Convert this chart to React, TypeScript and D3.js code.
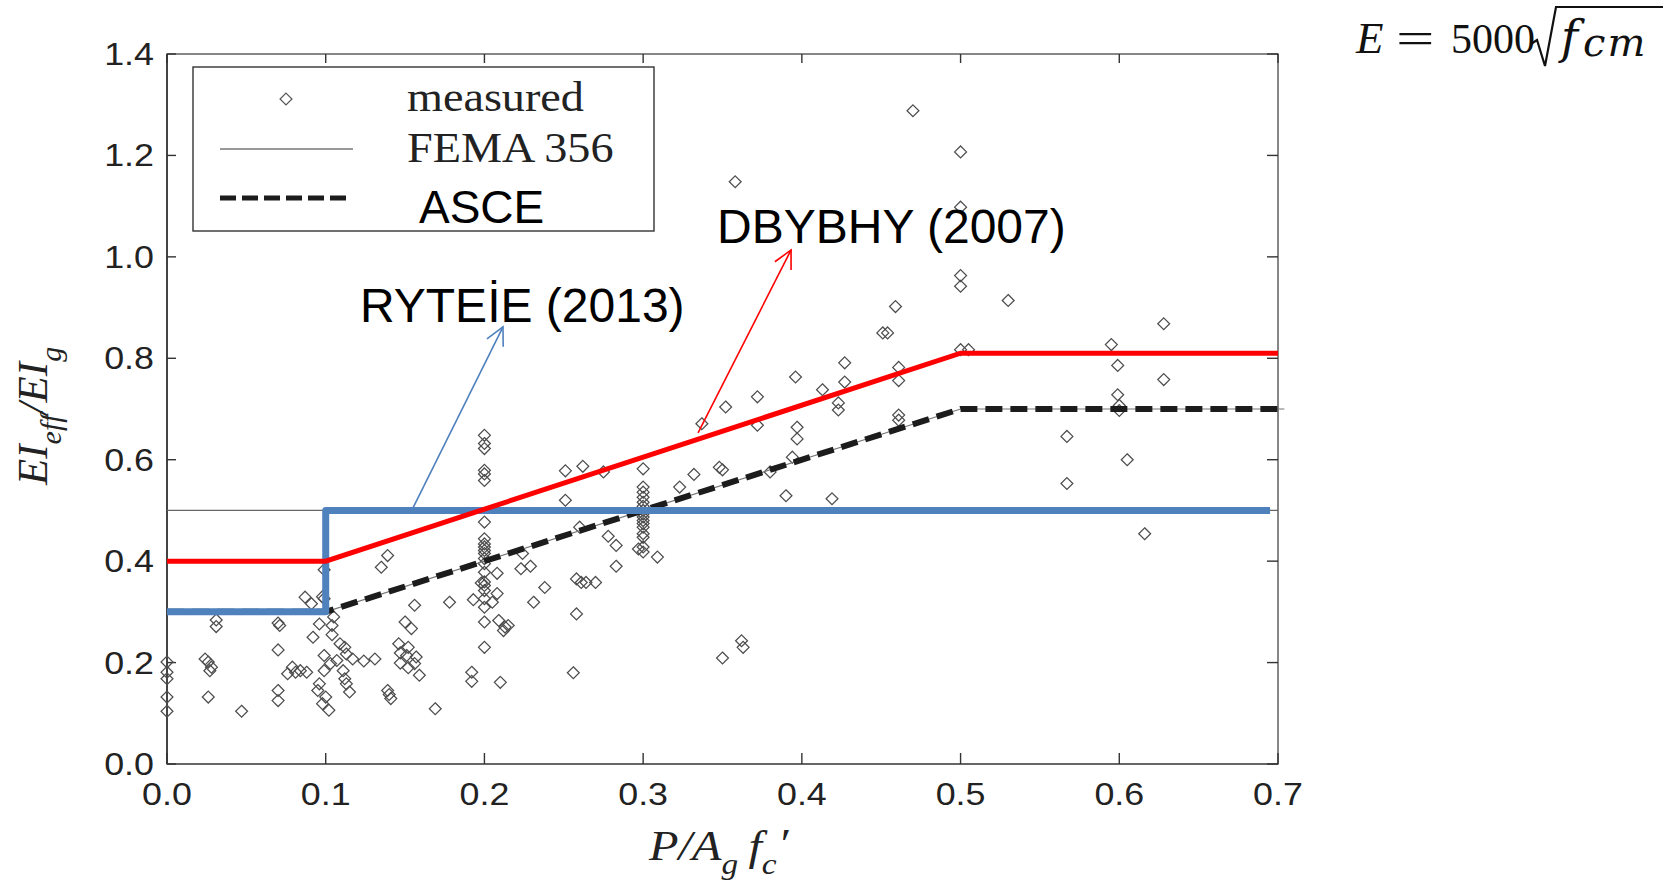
import React from "react";
import * as d3 from "d3";

// Axis ticks
const xTicks = [0, 0.1, 0.2, 0.3, 0.4, 0.5, 0.6, 0.7];
const yTicks = [0, 0.2, 0.4, 0.6, 0.8, 1.0, 1.2, 1.4];

// Code provisions (axial load ratio -> stiffness ratio)
const femaX = [0, 0.7];
const femaY = [0.5, 0.5];
const ryteieX = [0, 0.1, 0.1, 0.695];
const ryteieY = [0.3, 0.3, 0.5, 0.5];
const dbybhyX = [0, 0.1, 0.5, 0.7];
const dbybhyY = [0.4, 0.4, 0.81, 0.81];
const asceX = [0, 0.1, 0.5, 0.704];
const asceY = [0.3, 0.3, 0.7, 0.7];

// Test results: axial load ratio P/(Ag f'c)
const measuredP = [
  0, 0, 0, 0, 0, 0.024, 0.026, 0.028, 0.027, 0.026, 0.031, 0.031, 0.047,
  0.07, 0.071, 0.07, 0.07, 0.07, 0.076, 0.079, 0.081, 0.084, 0.088, 0.087,
  0.091, 0.092, 0.096, 0.098, 0.099, 0.099, 0.099, 0.099, 0.095, 0.096, 0.1,
  0.102, 0.098, 0.104, 0.104, 0.105, 0.109, 0.112, 0.113, 0.117, 0.124, 0.107,
  0.103, 0.111, 0.112, 0.113, 0.115, 0.131, 0.139, 0.135, 0.156, 0.178, 0.15,
  0.154, 0.146, 0.152, 0.147, 0.151, 0.157, 0.147, 0.156, 0.152, 0.159, 0.139,
  0.14, 0.141, 0.169, 0.192, 0.192,
  0.2, 0.2, 0.2, 0.2, 0.2, 0.2, 0.2, 0.2, 0.2, 0.2, 0.2, 0.2, 0.2, 0.2, 0.2,
  0.2, 0.2, 0.2, 0.2, 0.2, 0.2, 0.2,
  0.193, 0.198, 0.205, 0.208, 0.209, 0.213, 0.215, 0.212, 0.208, 0.224, 0.223,
  0.229, 0.238, 0.231, 0.251, 0.251, 0.21, 0.262, 0.275, 0.26, 0.278, 0.283,
  0.283, 0.258, 0.261, 0.264, 0.27, 0.258, 0.256, 0.297, 0.309, 0.323, 0.332,
  0.3, 0.3, 0.3, 0.3, 0.3, 0.3, 0.3, 0.3, 0.3, 0.3, 0.3, 0.3, 0.3, 0.3, 0.3, 0.3,
  0.348, 0.35, 0.39, 0.38, 0.352, 0.372, 0.372, 0.337, 0.397, 0.397, 0.362,
  0.363, 0.35, 0.358, 0.451, 0.454, 0.427, 0.396, 0.427, 0.413, 0.459, 0.461,
  0.461, 0.423, 0.423, 0.461, 0.461, 0.394, 0.419, 0.47, 0.5, 0.5, 0.5, 0.5,
  0.53, 0.5, 0.505, 0.595, 0.628, 0.599, 0.628, 0.599, 0.6, 0.6, 0.567, 0.605,
  0.567, 0.616,
];

// Test results: effective stiffness ratio EIeff/EIg
const measuredEI = [
  0.201, 0.181, 0.168, 0.132, 0.104, 0.207, 0.201, 0.191, 0.184, 0.132, 0.284,
  0.271, 0.104, 0.278, 0.273, 0.225, 0.145, 0.125, 0.178, 0.191, 0.181, 0.184,
  0.181, 0.329, 0.316, 0.25, 0.276, 0.33, 0.326, 0.383, 0.214, 0.184, 0.145,
  0.158, 0.132, 0.106, 0.119, 0.273, 0.255, 0.29, 0.237, 0.23, 0.217, 0.207,
  0.203, 0.204, 0.198, 0.184, 0.168, 0.158, 0.142, 0.207, 0.411, 0.388, 0.313,
  0.319, 0.28, 0.267, 0.237, 0.23, 0.219, 0.214, 0.211, 0.199, 0.198, 0.19,
  0.175, 0.145, 0.137, 0.129, 0.109, 0.181, 0.163,
  0.648, 0.632, 0.622, 0.579, 0.572, 0.559, 0.477, 0.444, 0.434, 0.428, 0.421,
  0.415, 0.405, 0.395, 0.378, 0.359, 0.352, 0.342, 0.326, 0.309, 0.28, 0.23,
  0.324, 0.357, 0.319, 0.336, 0.283, 0.27, 0.273, 0.263, 0.376, 0.415, 0.385,
  0.39, 0.348, 0.319, 0.578, 0.52, 0.161, 0.587, 0.576, 0.467, 0.449, 0.431,
  0.39, 0.365, 0.358, 0.358, 0.358, 0.296, 0.18, 0.424, 0.408, 0.546, 0.571,
  0.582, 0.546, 0.536, 0.526, 0.516, 0.508, 0.5, 0.493, 0.487, 0.48, 0.474,
  0.467, 0.454, 0.447, 0.428, 0.418,
  0.585, 0.58, 0.529, 0.576, 0.704, 0.724, 0.668, 0.671, 0.664, 0.641, 0.243,
  0.23, 0.209, 1.148, 0.85, 0.85, 0.791, 0.763, 0.753, 0.738, 0.902, 0.782,
  0.756, 0.712, 0.698, 0.688, 0.678, 0.605, 0.523, 1.288, 1.207, 1.098, 0.963,
  0.942, 0.914, 0.817, 0.817, 0.827, 0.868, 0.786, 0.758, 0.728, 0.707, 0.697,
  0.646, 0.6, 0.553, 0.454,
];

// Annotation arrows in data units: [x0, y0, x1, y1]
const dbybhyArrow = [0.3346, 0.653, 0.3932, 1.0136];
const ryteieArrow = [0.155, 0.505, 0.2117, 0.862];

const W = 1672;
const H = 881;

const x = d3.scaleLinear().domain([0, 0.7]).range([167, 1278]);
const y = d3.scaleLinear().domain([0, 1.4]).range([764, 54]);

const pathOf = (xs: number[], ys: number[]) =>
  d3
    .line<number>()
    .x((_, i) => x(xs[i]))
    .y((_, i) => y(ys[i]))(xs.map((_, i) => i)) as string;

const diamondType: any = (d3 as any).symbolDiamond2 || d3.symbolDiamond;
const diamond = d3.symbol().type(diamondType).size(90)() as string;

function Arrow({ a, color }: { a: number[]; color: string }) {
  const x0 = x(a[0]);
  const y0 = y(a[1]);
  const x1 = x(a[2]);
  const y1 = y(a[3]);
  const ang = Math.atan2(y1 - y0, x1 - x0);
  const L = 20;
  const spread = 0.47;
  const w1 = [x1 - L * Math.cos(ang - spread), y1 - L * Math.sin(ang - spread)];
  const w2 = [x1 - L * Math.cos(ang + spread), y1 - L * Math.sin(ang + spread)];
  return (
    <g stroke={color} strokeWidth={1.6} fill="none">
      <line x1={x0} y1={y0} x2={x1} y2={y1} />
      <path d={`M${w1[0]},${w1[1]}L${x1},${y1}L${w2[0]},${w2[1]}`} />
    </g>
  );
}

export default function App() {
  const serif = "'Liberation Serif', 'Times New Roman', serif";
  const mathSerif = "'DejaVu Serif', serif";
  const sans = "'Liberation Sans', Arial, sans-serif";
  const left = x(0);
  const right = x(0.7);
  const top = y(1.4);
  const bottom = y(0);

  return (
    <svg
      width={W}
      height={H}
      style={{ position: "absolute", left: 0, top: 0, background: "#fff" }}
    >
      <rect x={0} y={0} width={W} height={H} fill="#fff" />

      {/* plot frame */}
      <rect
        x={left}
        y={top}
        width={right - left}
        height={bottom - top}
        fill="none"
        stroke="#555"
        strokeWidth={1.4}
      />
      <line x1={left} y1={top} x2={left} y2={bottom} stroke="#333" strokeWidth={1.6} />
      <line x1={left} y1={bottom} x2={right} y2={bottom} stroke="#666" strokeWidth={2} />

      {/* ticks */}
      {xTicks.map((t) => (
        <g key={"xt" + t} stroke="#333" strokeWidth={1.4}>
          <line x1={x(t)} x2={x(t)} y1={bottom} y2={bottom - 11} />
          <line x1={x(t)} x2={x(t)} y1={top} y2={top + 9} />
        </g>
      ))}
      {yTicks.map((t) => (
        <g key={"yt" + t} stroke="#333" strokeWidth={1.4}>
          <line x1={left} x2={left + 9} y1={y(t)} y2={y(t)} />
          <line x1={right} x2={right - 11} y1={y(t)} y2={y(t)} />
        </g>
      ))}

      {/* tick labels */}
      {xTicks.map((t) => (
        <text
          key={"xl" + t}
          transform={`translate(${x(t)},${bottom + 41}) scale(1.12,1)`}
          textAnchor="middle"
          fontFamily={sans}
          fontSize={32}
          fill="#222"
        >
          {t.toFixed(1)}
        </text>
      ))}
      {yTicks.map((t) => (
        <text
          key={"yl" + t}
          transform={`translate(${left - 13},${y(t) + 11}) scale(1.12,1)`}
          textAnchor="end"
          fontFamily={sans}
          fontSize={32}
          fill="#222"
        >
          {t.toFixed(1)}
        </text>
      ))}

      {/* measured data */}
      <g fill="none" stroke="#4d4d4d" strokeWidth={1.25}>
        {measuredP.map((p, i) => (
          <path key={"m" + i} d={diamond} transform={`translate(${x(p)},${y(measuredEI[i])})`} />
        ))}
      </g>

      {/* FEMA 356 */}
      <path d={pathOf(femaX, femaY)} fill="none" stroke="#666" strokeWidth={1.3} />

      {/* ASCE */}
      <path d={pathOf(asceX, asceY)} fill="none" stroke="#777" strokeWidth={1.2} />
      <path
        d={pathOf(asceX, asceY)}
        fill="none"
        stroke="#1c1c1c"
        strokeWidth={6}
        strokeDasharray="17 8"
      />

      {/* RYTEİE (2013) */}
      <path
        d={pathOf(ryteieX, ryteieY)}
        fill="none"
        stroke="#4f81bd"
        strokeWidth={7}
        strokeLinejoin="round"
      />

      {/* DBYBHY (2007) */}
      <path d={pathOf(dbybhyX, dbybhyY)} fill="none" stroke="#ff0000" strokeWidth={5} />

      {/* annotations */}
      <Arrow a={dbybhyArrow} color="#ff0000" />
      <Arrow a={ryteieArrow} color="#4f81bd" />
      <text x={x(0.3466)} y={y(1.027)} fontFamily={sans} fontSize={48} fill="#000">
        DBYBHY (2007)
      </text>
      <text x={x(0.1216)} y={y(0.8716)} fontFamily={sans} fontSize={48} fill="#000">
        RYTEİE (2013)
      </text>

      {/* legend */}
      <rect x={193} y={67} width={461} height={164} fill="#fff" stroke="#333" strokeWidth={1.4} />
      <path d={diamond} transform="translate(286,99)" fill="none" stroke="#555" strokeWidth={1.2} />
      <text
        transform="translate(407,111) scale(1.1,1)"
        fontFamily={serif}
        fontSize={42}
        fill="#222"
      >
        measured
      </text>
      <line x1={220} x2={353} y1={149} y2={149} stroke="#777" strokeWidth={1.5} />
      <text
        transform="translate(407,162) scale(1.1,1)"
        fontFamily={serif}
        fontSize={42}
        fill="#222"
      >
        FEMA 356
      </text>
      <line
        x1={220}
        x2={347}
        y1={198}
        y2={198}
        stroke="#1c1c1c"
        strokeWidth={5}
        strokeDasharray="16 6"
      />
      <text x={419} y={223} fontFamily={sans} fontSize={46} fill="#000">
        ASCE
      </text>

      {/* x axis title: P/Ag fc' */}
      <text
        transform="translate(649,860) scale(1.15,1)"
        fontFamily={serif}
        fontStyle="italic"
        fontSize={42}
        fill="#222"
      >
        P/A
        <tspan fontSize={29} dy={14}>
          g
        </tspan>
        <tspan dx={9} dy={-14}>
          f
        </tspan>
        <tspan fontSize={29} dy={14}>
          c
        </tspan>
        <tspan dx={1} dy={-16}>
          ′
        </tspan>
      </text>

      {/* y axis title: EIeff/EIg */}
      <text
        transform="translate(47,485) rotate(-90)"
        fontFamily={serif}
        fontStyle="italic"
        fontSize={43}
        fill="#222"
      >
        EI
        <tspan fontSize={30} dy={14}>
          eff
        </tspan>
        <tspan dy={-14}>/EI</tspan>
        <tspan fontSize={30} dy={14}>
          g
        </tspan>
      </text>

      {/* stiffness formula */}
      <g fill="#111">
        <text x={1356} y={53} fontSize={45} fontStyle="italic" fontFamily={serif}>
          E
        </text>
        <text transform="translate(1396,53) scale(1.55,1)" fontSize={44} fontFamily={serif}>
          =
        </text>
        <text x={1451} y={53} fontSize={42} fontFamily={serif}>
          5000
        </text>
        <path
          d="M1531,44 L1537,40 L1545,66 L1556,7 L1663,7"
          fill="none"
          stroke="#111"
          strokeWidth={2.2}
          strokeLinejoin="miter"
        />
        <text x={1561} y={53} fontFamily={mathSerif} fontStyle="italic">
          <tspan fontSize={46}>f</tspan>
          <tspan fontSize={40} dx={5} dy={3} letterSpacing={2}>
            cm
          </tspan>
        </text>
      </g>
    </svg>
  );
}
